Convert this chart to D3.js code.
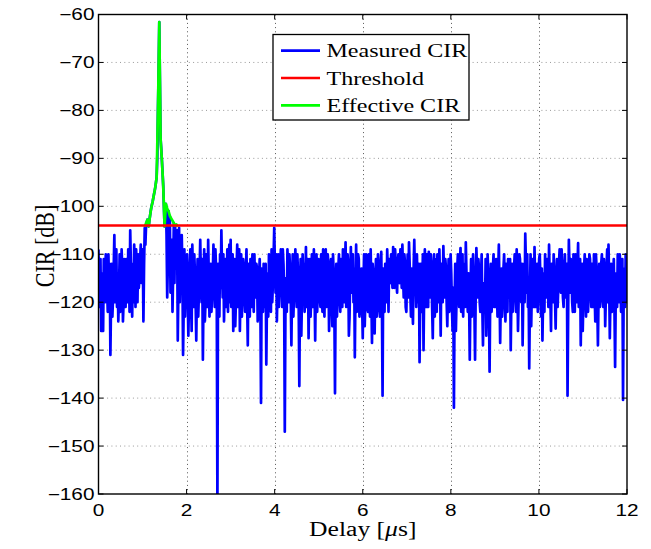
<!DOCTYPE html>
<html><head><meta charset="utf-8">
<script src="https://cdn.jsdelivr.net/npm/d3@7"></script>
<style>body{margin:0;background:#fff}</style>
</head><body>
<svg id="chart" width="651" height="549"></svg>
<script>
// ---------- data ----------
// Measured CIR sampled every 0.015 µs: cirRowN holds samples at k*0.03 µs,
// cirMidN holds the samples half-way between them.
const delayStep = 0.03;
const cirRow0  = [-109,-118,-126,-114,-111,-120,-113,-122,-117,-131,-112,-119,-106,-115,-121,-124,-110,-118,-113,-120];
const cirMid0  = [-121,-111,-119,-126,-116,-110,-117,-110,-112,-120,-123,-113,-120,-109,-114,-118,-122,-109,-124,-111];
const cirRow1  = [-116,-111,-120,-113,-105,-119,-112,-108,-121,-114,-110,-115,-108,-113,-124,-104.5,-104,-102.8,-104.2,-102];
const cirMid1  = [-121,-114,-109,-122,-112,-123,-120,-113,-109,-120,-117,-111,-116,-109,-112,-108,-103.5,-103.5,-103,-101];
const cirRow2  = [-100.2,-99,-97.5,-96,-94,-80,-61.6,-86,-90.5,-95.8,-104.2,-99.5,-119,-101,-102,-110,-122,-103.5,-104,-108];
const cirMid2  = [-99.6,-98.2,-96.8,-95,-90,-72,-74,-88,-93,-100,-101,-106,-112,-114,-118,-107,-114,-116,-113,-105];
const cirRow3  = [-128,-104.5,-112,-106,-131,-109,-117,-110,-127,-113,-119,-108,-121,-114,-128,-111,-118,-107,-120,-132];
const cirMid3  = [-116,-120,-118,-113,-121,-123,-112,-118,-120,-109,-126,-114,-110,-120,-117,-123,-114,-115,-111,-118];
const cirRow4  = [-109,-120,-114,-107,-123,-112,-118,-108,-121,-113,-162,-116,-110,-105,-119,-124,-111,-117,-122,-108];
const cirMid4  = [-124,-110,-121,-115,-118,-122,-114,-116,-109,-119,-112,-123,-117,-113,-110,-116,-121,-109,-115,-120];
const cirRow5  = [-107,-118,-126,-111,-120,-108,-115,-126,-110,-119,-113,-122,-109,-129,-116,-111,-121,-114,-110,-119];
const cirMid5  = [-121,-110,-117,-125,-113,-121,-109,-117,-123,-111,-118,-114,-120,-112,-123,-118,-110,-122,-117,-112];
const cirRow6  = [-113,-120,-111,-141,-117,-112,-121,-133,-114,-110,-119,-109,-116,-104.5,-118,-124,-110,-117,-109,-121];
const cirMid6  = [-124,-115,-119,-113,-122,-116,-112,-120,-123,-114,-122,-120,-111,-112,-110,-117,-121,-113,-115,-109];
const cirRow7  = [-112,-147,-115,-109,-120,-113,-129,-110,-118,-109,-121,-114,-137.5,-111,-119,-115,-122,-108.5,-117,-127.5];
const cirMid7  = [-118,-121,-122,-114,-110,-119,-116,-123,-113,-117,-110,-120,-117,-127,-110,-112,-117,-121,-111,-118];
const cirRow8  = [-111,-119,-113,-109,-128,-110,-118,-112,-121,-115,-109,-123,-109,-117,-112,-120,-111,-125,-114,-139];
const cirMid8  = [-123,-110,-121,-117,-116,-122,-111,-119,-110,-122,-116,-113,-121,-110,-126,-113,-119,-110,-121,-117];
const cirRow9  = [-112,-118,-110,-122,-115,-109,-120,-107.5,-117,-112,-123,-108.5,-116,-120,-131.5,-108,-118,-111,-121,-113];
const cirMid9  = [-123,-113,-119,-111,-121,-117,-113,-121,-110,-127,-115,-118,-110,-113,-117,-122,-110,-123,-116,-120];
const cirRow10 = [-127.5,-110,-119,-113,-122,-116,-109,-128.5,-114,-126.5,-111,-120,-115,-123,-109.5,-139.5,-117,-112,-120,-114];
const cirMid10 = [-117,-125,-110,-121,-110,-123,-118,-112,-120,-116,-123,-110,-121,-112,-120,-113,-122,-117,-109,-122];
const cirRow11 = [-111,-116,-113,-108.5,-117,-112,-118,-110,-116,-113,-108,-119,-112,-122,-110,-107.5,-118,-113,-124.5,-107];
const cirMid11 = [-115,-110,-117,-113,-109,-116,-112,-115,-109,-117,-114,-110,-121,-115,-119,-112,-123,-120,-113,-115];
const cirRow12 = [-115,-110,-120,-132.5,-112,-118,-130,-109,-121,-114,-109.5,-119,-112,-127.5,-110,-117,-122,-113,-109,-127];
const cirMid12 = [-121,-117,-112,-119,-122,-110,-117,-116,-110,-121,-115,-110,-121,-116,-123,-111,-110,-120,-116,-112];
const cirRow13 = [-116,-108.3,-119,-113,-125,-111,-118,-114,-126,-142,-112,-119,-110,-121,-108.7,-116,-123,-112,-107.5,-118];
const cirMid13 = [-120,-114,-111,-120,-116,-122,-110,-121,-117,-120,-126,-113,-117,-112,-122,-110,-117,-121,-114,-122];
const cirRow14 = [-114,-132,-111,-120,-115,-132,-108.7,-119,-113,-122,-110,-129,-116,-111,-121,-114,-134.5,-112,-119,-110];
const cirMid14 = [-120,-118,-123,-110,-121,-118,-114,-111,-120,-115,-121,-118,-122,-127,-110,-120,-118,-122,-113,-121];
const cirRow15 = [-117,-111,-123,-108,-128.5,-113,-120,-110,-124,-115,-111,-119,-130,-112,-118,-110,-122,-114,-119,-111];
const cirMid15 = [-121,-116,-114,-117,-119,-123,-113,-117,-112,-122,-116,-111,-119,-122,-113,-117,-109,-126,-110,-117];
const cirRow16 = [-120,-129,-112,-105.7,-118,-121,-133.8,-110,-117,-113,-108.5,-121,-112,-118,-110,-123,-128,-114,-110,-119];
const cirMid16 = [-112,-118,-120,-112,-110,-115,-120,-125,-111,-121,-116,-114,-122,-111,-116,-113,-119,-122,-116,-111];
const cirRow17 = [-113,-108,-119,-112,-120,-114,-125.5,-111,-117,-109,-118,-113,-121,-110,-116,-139.5,-107,-118,-112,-122];
const cirMid17 = [-121,-115,-126,-118,-110,-119,-116,-121,-112,-116,-109,-119,-114,-119,-112,-121,-113,-111,-120,-110];
const cirRow18 = [-114,-110,-120,-107.7,-116,-129,-112,-119,-110,-123,-113,-118,-111,-121,-115,-110,-124,-113,-129,-112];
const cirMid18 = [-122,-116,-113,-121,-111,-118,-126,-113,-118,-111,-122,-110,-117,-112,-121,-118,-110,-120,-118,-121];
const cirRow19 = [-118,-110,-121,-114,-119,-109,-108,-127.5,-112,-120,-111,-133.5,-114,-110,-120,-112,-118,-140.4,-113,-110];
const cirMid19 = [-112,-119,-111,-125,-113,-120,-116,-118,-122,-115,-121,-118,-121,-117,-110,-122,-111,-117,-121,-120];
const cirLast  = [-116];

const threshold = -104; // dB

const effectiveStart = 1.05; // µs
const effectiveCIR = [-104.3,-103.5,-102.8,-104.2,-102,-100.2,-99,-97.5,-96,-94,-80,-61.6,-86,-90.5,-95.8,-104.2,-99.5,-100.5,-101,-102,-102.5,-103,-103.5,-104,-103.8,-104.2];

const xTicks = [0, 2, 4, 6, 8, 10, 12];
const yTicks = [-160, -150, -140, -130, -120, -110, -100, -90, -80, -70, -60];
const legendLabels = ["Measured CIR", "Threshold", "Effective CIR"];
const seriesColors = ["#0000ff", "#ff0000", "#00ff00"];

// ---------- build series ----------
const rows = [cirRow0,cirRow1,cirRow2,cirRow3,cirRow4,cirRow5,cirRow6,cirRow7,cirRow8,cirRow9,
  cirRow10,cirRow11,cirRow12,cirRow13,cirRow14,cirRow15,cirRow16,cirRow17,cirRow18,cirRow19];
const mids = [cirMid0,cirMid1,cirMid2,cirMid3,cirMid4,cirMid5,cirMid6,cirMid7,cirMid8,cirMid9,
  cirMid10,cirMid11,cirMid12,cirMid13,cirMid14,cirMid15,cirMid16,cirMid17,cirMid18,cirMid19];
const measured = [];
rows.forEach((row, r) => row.forEach((v, i) => {
  const k = r * row.length + i;
  measured.push({t: k * delayStep, v});
  measured.push({t: k * delayStep + delayStep / 2, v: mids[r][i]});
}));
measured.push({t: 12, v: cirLast[0]});
const effective = effectiveCIR.map((v, i) => ({t: effectiveStart + i * delayStep, v}));

// ---------- layout ----------
const L = 98.5, R = 627, T = 14.5, B = 494;
const SX = 1.3; // horizontal stretch of the reference text
const svg = d3.select("#chart");
const x = d3.scaleLinear().domain([0, 12]).range([L, R]);
const y = d3.scaleLinear().domain([-160, -60]).range([B, T]);

svg.append("rect").attr("width", 651).attr("height", 549).attr("fill", "#fff");
svg.append("defs").append("clipPath").attr("id", "clip")
  .append("rect").attr("x", L).attr("y", T).attr("width", R - L).attr("height", B - T);

// grid
const grid = svg.append("g");
grid.selectAll(".gx").data(xTicks.filter(d => d > 0 && d < 12)).join("line")
  .attr("x1", d => Math.round(x(d)) + 0.5).attr("x2", d => Math.round(x(d)) + 0.5)
  .attr("y1", T).attr("y2", B)
  .attr("stroke", "#555").attr("stroke-width", 1).attr("stroke-dasharray", "1,3.2");
grid.selectAll(".gy").data(yTicks.filter(d => d > -160 && d < -60)).join("line")
  .attr("x1", L).attr("x2", R)
  .attr("y1", d => y(d)).attr("y2", d => y(d))
  .attr("stroke", "#999").attr("stroke-width", 1).attr("stroke-dasharray", "1,3.3");

// series
const plot = svg.append("g").attr("clip-path", "url(#clip)");
const line = d3.line().x(d => x(d.t)).y(d => y(d.v));
plot.append("path").datum(measured).attr("d", line)
  .attr("fill", "none").attr("stroke", seriesColors[0]).attr("stroke-width", 2.7).attr("stroke-linejoin", "round");
plot.append("path").datum(effective).attr("d", line)
  .attr("fill", "none").attr("stroke", seriesColors[2]).attr("stroke-width", 2.7).attr("stroke-linejoin", "round");
plot.append("line").attr("x1", x(0)).attr("x2", x(12)).attr("y1", y(threshold)).attr("y2", y(threshold))
  .attr("stroke", seriesColors[1]).attr("stroke-width", 2.7);

// axes box + inward ticks
const ax = svg.append("g").attr("stroke", "#000").attr("fill", "none");
ax.append("rect").attr("x", L).attr("y", T).attr("width", R - L).attr("height", B - T).attr("stroke-width", 1.4);
const tk = 5;
xTicks.forEach(d => {
  ax.append("line").attr("x1", x(d)).attr("x2", x(d)).attr("y1", B).attr("y2", B - tk).attr("stroke-width", 1);
  ax.append("line").attr("x1", x(d)).attr("x2", x(d)).attr("y1", T).attr("y2", T + tk).attr("stroke-width", 1);
});
yTicks.forEach(d => {
  ax.append("line").attr("x1", L).attr("x2", L + tk).attr("y1", y(d)).attr("y2", y(d)).attr("stroke-width", 1);
  ax.append("line").attr("x1", R).attr("x2", R - tk).attr("y1", y(d)).attr("y2", y(d)).attr("stroke-width", 1);
});

// tick labels
const fmt = d3.format("d");
const tickFont = "'Liberation Sans', Arial, Helvetica, sans-serif";
xTicks.forEach(d => {
  svg.append("text").attr("transform", `translate(${x(d)},${516}) scale(${SX},1)`)
    .attr("text-anchor", "middle").attr("font-family", tickFont).attr("font-size", 16).attr("fill", "#000")
    .text(fmt(d));
});
yTicks.forEach(d => {
  svg.append("text").attr("transform", `translate(${94.5},${y(d)}) scale(${SX},1)`)
    .attr("text-anchor", "end").attr("dy", "0.36em").attr("font-family", tickFont).attr("font-size", 16).attr("fill", "#000")
    .text(fmt(d));
});

// axis labels
const serif = "'Liberation Serif', 'Times New Roman', serif";
const xl = svg.append("text").attr("transform", `translate(${(L + R) / 2},${536}) scale(1.28,1)`)
  .attr("text-anchor", "middle").attr("font-family", serif).attr("font-size", 20).attr("fill", "#000");
xl.append("tspan").text("Delay [");
xl.append("tspan").attr("font-style", "italic").text("μ");
xl.append("tspan").text("s]");

svg.append("text").attr("transform", `translate(${54},${246}) scale(1.25,1) rotate(-90)`)
  .attr("text-anchor", "middle").attr("font-family", serif).attr("font-size", 22).attr("fill", "#000")
  .text("CIR [dB]");

// legend
const lg = svg.append("g");
lg.append("rect").attr("x", 273).attr("y", 34.5).attr("width", 196).attr("height", 85.5)
  .attr("fill", "#fff").attr("stroke", "#000").attr("stroke-width", 1.3);
legendLabels.forEach((lab, i) => {
  const ly = 50.7 + i * 27.3;
  lg.append("line").attr("x1", 281).attr("x2", 320).attr("y1", ly).attr("y2", ly)
    .attr("stroke", seriesColors[i]).attr("stroke-width", 2.7);
  lg.append("text").attr("transform", `translate(${326.5},${ly + 6.6}) scale(1.3,1)`)
    .attr("font-family", serif).attr("font-size", 18.5).attr("fill", "#000").text(lab);
});
</script>
</body></html>
